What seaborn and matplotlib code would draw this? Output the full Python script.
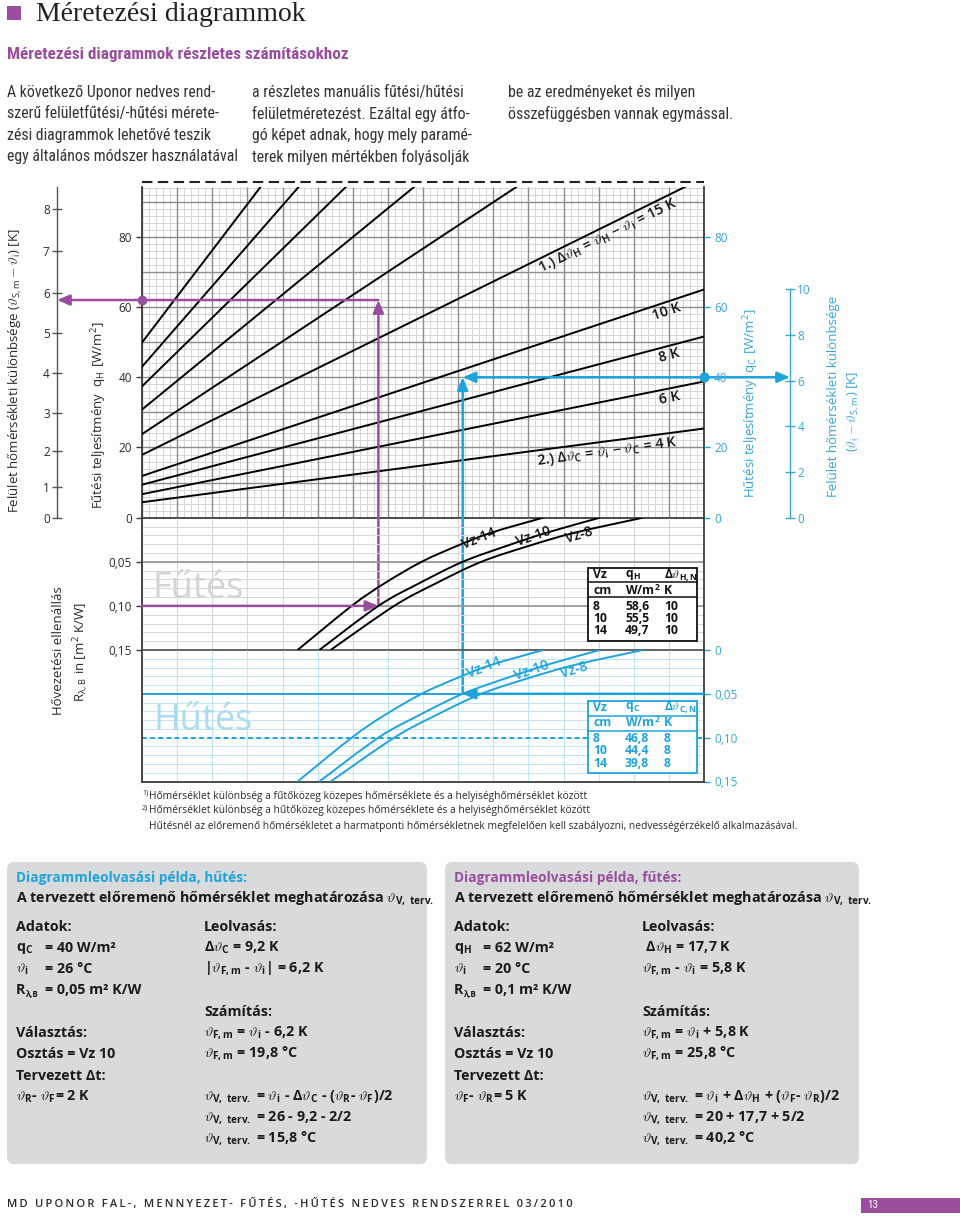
import numpy as np
import matplotlib
matplotlib.use("Agg")
import matplotlib.pyplot as plt
import matplotlib.font_manager as fm
from matplotlib.patches import FancyBboxPatch, Rectangle, PathPatch
from matplotlib.path import Path
import seaborn as sns

# ---------------- data ----------------
# upper field: output lines, one per medium temperature difference (K)
line_dt_K = [4, 6, 8, 10, 15, 20, 25, 30, 35, 40]
line_q_at_x0 = [4.4, 6.7, 9.4, 11.9, 17.9, 23.8, 30.8, 37.4, 43.0, 49.9]
line_q_at_x16 = [25.4, 38.8, 51.6, 65.0, 96.9, 129.5, 161.8, 194.0, 226.8, 260.0]
line_x = [0, 16]

# line labels: (dT, text, x, q, rotation)
line_labels = [
    (15, r'1.) Δ$\vartheta_\mathregular{H}$ = $\vartheta_\mathregular{H}$ − $\vartheta_\mathregular{i}$ = 15 K', 13.27, 80.3, 26),
    (10, '10 K', 14.93, 58.8, 18.4),
    (8, '8 K', 15.0, 46.3, 14.8),
    (6, '6 K', 15.03, 34.1, 11.3),
    (4, r'2.) Δ$\vartheta_\mathregular{C}$ = $\vartheta_\mathregular{i}$ − $\vartheta_\mathregular{C}$ = 4 K', 13.25, 18.7, 7.8),
]

# middle (heating) and lower (cooling) fields: Vz pipe spacing curves
vz_R = [0.15, 0.10, 0.075, 0.05, 0.032, 0.017, 0.0]
vz14_x = [4.43, 5.97, 6.88, 7.96, 8.97, 9.94, 11.42]
vz10_x = [5.05, 6.73, 7.86, 9.13, 10.38, 11.52, 13.04]
vz8_x = [5.37, 7.18, 8.34, 9.66, 11.01, 12.32, 14.26]
vz_names = ['Vz 14', 'Vz 10', 'Vz 8']
vz_heat_lab = [(9.60, 0.0237, 22), (11.16, 0.0215, 19), (12.44, 0.0198, 17)]
vz_cool_lab = [(9.74, 0.0206, 22), (11.10, 0.0228, 19), (12.30, 0.0228, 17)]

# axes ticks
q_ticks = [0, 20, 40, 60, 80]
theta_heat_ticks_q = [0, 8.8, 19.0, 29.9, 41.1, 52.5, 63.9, 75.9, 87.9]
theta_heat_labels = ['0', '1', '2', '3', '4', '5', '6', '7', '8']
theta_cool_ticks_q = [0, 13.0, 26.0, 39.0, 52.1, 65.1]
theta_cool_labels = ['0', '2', '4', '6', '8', '10']
R_heat_ticks = [0.05, 0.10, 0.15]
R_heat_labels = ['0,05', '0,10', '0,15']
R_cool_ticks = [0, 0.05, 0.10, 0.15]
R_cool_labels = ['0', '0,05', '0,10', '0,15']

# reading examples
heat_q, heat_R = 62, 0.10
cool_q, cool_R = 40, 0.05

# inner tables
tab_vz = ['8', '10', '14']
tab_qH = ['58,6', '55,5', '49,7']
tab_dTH = ['10', '10', '10']
tab_qC = ['46,8', '44,4', '39,8']
tab_dTC = ['8', '8', '8']

# ---------------- style ----------------
def pick(names):
    for n in names:
        try:
            fm.findfont(fm.FontProperties(family=n), fallback_to_default=False)
            return n
        except Exception:
            continue
    return 'DejaVu Sans'

sns.set_theme(style='white')
SANS = pick(['Open Sans', 'Noto Sans', 'DejaVu Sans'])
NARROW = pick(['Liberation Sans Narrow', 'Roboto Condensed', 'Open Sans Condensed', SANS])
SERIF = pick(['Liberation Serif', 'DejaVu Serif'])
plt.rcParams['font.family'] = [SANS, 'DejaVu Sans']
plt.rcParams['mathtext.fontset'] = 'cm'

PURPLE = '#9a4d9e'
BLUE = '#1ea3dd'
BLUE_TXT = '#3ba6d6'
BLUE_GRID = '#c2e5f4'
GRID_MAJOR = '#8d8d8d'
GRID_MINOR = '#d6d6d6'
FRAME = '#3c3c3c'
TXT = '#2a2a2a'
BOXC = '#d9dadb'

W, H = 960, 1219
fig = plt.figure(figsize=(9.6, 12.19), dpi=100)
fig.patch.set_facecolor('white')

def rect(l, t, r, b):
    return [l / W, 1 - b / H, (r - l) / W, (b - t) / H]

FL, FR = 142, 704
Y_TOP, Y_Q0, Y_R15, Y_BOT = 187, 517.7, 650, 781.5
Q_TOP = 94.2

ax_bg = fig.add_axes([0, 0, 1, 1], zorder=0)
ax_bg.set_xlim(0, W); ax_bg.set_ylim(H, 0); ax_bg.axis('off')
ax_fg = fig.add_axes([0, 0, 1, 1], zorder=10)
ax_fg.set_xlim(0, W); ax_fg.set_ylim(H, 0); ax_fg.axis('off')
ax_fg.patch.set_alpha(0)

ax_top = fig.add_axes(rect(FL, Y_TOP, FR, Y_Q0), zorder=2)
ax_mid = fig.add_axes(rect(FL, Y_Q0, FR, Y_R15), zorder=2)
ax_bot = fig.add_axes(rect(FL, Y_R15, FR, Y_BOT), zorder=2)
for ax in (ax_top, ax_mid, ax_bot):
    ax.set_xlim(0, 16)
    ax.patch.set_alpha(0)
    ax.set_xticks([])
    ax.spines['top'].set_visible(False)
    for s in ('left', 'right', 'bottom'):
        ax.spines[s].set_color(FRAME)
        ax.spines[s].set_linewidth(1.3)
ax_top.set_ylim(0, Q_TOP)
ax_mid.set_ylim(0.15, 0)
ax_bot.set_ylim(0.15, 0)
ax_mid.spines['bottom'].set_color('#555555')

# ---- grids ----
xs_minor = np.arange(0, 16.001, 0.2)
xs_major = np.arange(0, 16.001, 1)
ax_top.vlines(xs_minor, 0, Q_TOP, color=GRID_MINOR, lw=0.7, zorder=0)
ax_top.hlines(np.arange(0, Q_TOP, 2), 0, 16, color=GRID_MINOR, lw=0.7, zorder=0)
ax_top.vlines(xs_major, 0, Q_TOP, color=GRID_MAJOR, lw=1.0, zorder=0.5)
ax_top.hlines(np.arange(10, Q_TOP, 10), 0, 16, color=GRID_MAJOR, lw=1.0, zorder=0.5)

ax_mid.vlines(xs_major, 0, 0.15, color=GRID_MINOR, lw=0.8, zorder=0)
ax_mid.hlines(np.arange(0.01, 0.15, 0.01), 0, 16, color=GRID_MINOR, lw=0.7, zorder=0)
ax_mid.hlines([0.05, 0.10], 0, 16, color=GRID_MAJOR, lw=1.1, zorder=0.5)

ax_bot.vlines(xs_major, 0, 0.15, color=BLUE_GRID, lw=0.8, zorder=0)
ax_bot.hlines(np.arange(0.01, 0.15, 0.01), 0, 16, color=BLUE_GRID, lw=0.7, zorder=0)
ax_bot.hlines([0.05], 0, 16, color=BLUE, lw=1.4, zorder=0.6)
ax_bot.hlines([0.10], 0, 16, color=BLUE, lw=1.4, zorder=0.6, linestyles=(0, (2.4, 1.8)))

# big background words
ax_mid.text(0.31, 0.0914, 'Fűtés', fontsize=26, color='#d4d4d4', ha='left', va='baseline', zorder=1)
ax_bot.text(0.34, 0.0913, 'Hűtés', fontsize=26, color='#acdcf1', ha='left', va='baseline', zorder=1)

# ---- output lines ----
for q0, q16 in zip(line_q_at_x0, line_q_at_x16):
    sns.lineplot(x=line_x, y=[q0, q16], ax=ax_top, color='black', linewidth=1.4,
                 sort=False, estimator=None, legend=False, zorder=3)
for dt, s, x, q, rot in line_labels:
    ax_top.text(x, q, s, fontsize=10.3, fontweight='semibold', color='#111111', rotation=rot,
                rotation_mode='anchor', ha='center', va='center', zorder=4)

# ---- Vz curves (smooth path through the read points) ----
def smooth_path(xs, ys):
    P = np.column_stack([xs, ys]).astype(float)
    verts = [P[0]]
    codes = [Path.MOVETO]
    n = len(P)
    for i in range(n - 1):
        p0 = P[i - 1] if i > 0 else P[i]
        p1, p2 = P[i], P[i + 1]
        p3 = P[i + 2] if i + 2 < n else P[i + 1]
        verts += [p1 + (p2 - p0) / 6.0, p2 - (p3 - p1) / 6.0, p2]
        codes += [Path.CURVE4] * 3
    return Path(np.array(verts), codes)

for xs in (vz14_x, vz10_x, vz8_x):
    ax_mid.add_patch(PathPatch(smooth_path(xs, vz_R), fill=False, edgecolor='black', lw=1.4, zorder=3))
    ax_bot.add_patch(PathPatch(smooth_path(xs, vz_R), fill=False, edgecolor=BLUE, lw=1.4, zorder=3))
for name, (x, r, rot) in zip(vz_names, vz_heat_lab):
    ax_mid.text(x, r, name.replace(' ', '-'), fontsize=10, fontweight='semibold', color='#111111',
                rotation=rot, rotation_mode='anchor', ha='center', va='center', zorder=4)
for name, (x, r, rot) in zip(vz_names, vz_cool_lab):
    ax_bot.text(x, r, name.replace(' ', '-'), fontsize=10, fontweight='semibold', color=BLUE,
                rotation=rot, rotation_mode='anchor', ha='center', va='center', zorder=4)
for ax in (ax_top, ax_mid, ax_bot):
    ax.set_xlabel(''); ax.set_ylabel('')
    ax.set_xlim(0, 16)

# ---- ticks ----
ax_top.set_yticks(q_ticks, [str(v) for v in q_ticks])
ax_top.tick_params(axis='y', left=True, direction='out', length=4.3, width=1, color=FRAME,
                   labelsize=8.5, labelcolor=TXT, pad=3)
ax_mid.set_yticks(R_heat_ticks, R_heat_labels)
ax_mid.tick_params(axis='y', left=True, direction='out', length=4.3, width=1, color=FRAME,
                   labelsize=8.5, labelcolor=TXT, pad=3)
ax_bot.yaxis.tick_right()
ax_bot.set_yticks(R_cool_ticks, R_cool_labels)
ax_bot.tick_params(axis='y', right=True, direction='out', length=4.3, width=1, color=BLUE,
                   labelsize=8.5, labelcolor=BLUE_TXT, pad=3)

ax_topr = ax_top.twinx()
ax_topr.set_ylim(0, Q_TOP)
ax_topr.set_yticks(q_ticks, [str(v) for v in q_ticks])
ax_topr.tick_params(axis='y', right=True, direction='out', length=4.3, width=1, color=BLUE,
                    labelsize=8.5, labelcolor=BLUE_TXT, pad=3)
for s in ax_topr.spines.values():
    s.set_visible(False)
ax_topr.patch.set_alpha(0)

ax_th = fig.add_axes(rect(57, Y_TOP, 57.3, Y_Q0), zorder=2)
ax_th.set_ylim(0, Q_TOP); ax_th.set_xlim(0, 1); ax_th.patch.set_alpha(0)
for s in ('top', 'right', 'bottom'):
    ax_th.spines[s].set_visible(False)
ax_th.spines['left'].set_color('#555555'); ax_th.spines['left'].set_linewidth(1.0)
ax_th.set_xticks([])
ax_th.set_yticks(theta_heat_ticks_q, theta_heat_labels)
ax_th.tick_params(axis='y', left=True, direction='inout', length=6.5, width=1, color='#555555',
                  labelsize=8.5, labelcolor=TXT, pad=2)

ax_tc = fig.add_axes(rect(789.7, Y_TOP, 790, Y_Q0), zorder=2)
ax_tc.set_ylim(0, Q_TOP); ax_tc.set_xlim(0, 1); ax_tc.patch.set_alpha(0)
for s in ('top', 'left', 'bottom'):
    ax_tc.spines[s].set_visible(False)
ax_tc.spines['right'].set_color(BLUE_TXT); ax_tc.spines['right'].set_linewidth(1.0)
ax_tc.spines['right'].set_bounds(0, theta_cool_ticks_q[-1])
ax_tc.set_xticks([])
ax_tc.yaxis.tick_right()
ax_tc.set_yticks(theta_cool_ticks_q, theta_cool_labels)
ax_tc.tick_params(axis='y', right=True, direction='inout', length=6.5, width=1, color=BLUE_TXT,
                  labelsize=8.5, labelcolor=BLUE_TXT, pad=2)

# ---- reading-example arrows ----
def arrow(ax, xy, xytext, color, style='-|>', tc=None, xc=None):
    ax.annotate('', xy=xy, xycoords=xc if xc is not None else 'data',
                xytext=xytext, textcoords=tc if tc is not None else 'data',
                arrowprops=dict(arrowstyle=style + ',head_length=0.75,head_width=0.32',
                                mutation_scale=10, color=color, lw=1.8,
                                shrinkA=0, shrinkB=0),
                annotation_clip=False, zorder=6)

hx = vz10_x[vz_R.index(heat_R)]
cx = vz10_x[vz_R.index(cool_R)]
arrow(ax_mid, (hx, heat_R), (0, heat_R), PURPLE)
arrow(ax_top, (hx, heat_q), (hx, heat_R), PURPLE, tc=ax_mid.transData)
arrow(ax_top, (hx, heat_q), (0, heat_q), PURPLE, style='<|-', tc=ax_th.transData)
ax_top.scatter([0], [heat_q], s=36, color=PURPLE, zorder=7, clip_on=False)

arrow(ax_bot, (cx, cool_R), (16, cool_R), BLUE)
arrow(ax_top, (cx, cool_q), (cx, cool_R), BLUE, tc=ax_bot.transData)
arrow(ax_top, (cx, cool_q), (16, cool_q), BLUE)
arrow(ax_top, (1, cool_q), (16, cool_q), BLUE, xc=ax_tc.transData)
ax_top.scatter([16], [cool_q], s=40, color=BLUE, zorder=7, clip_on=False)

# dashed line above the chart
ax_bg.plot([FL, FR], [182.3, 182.3], color='#222222', lw=1.5, dashes=(5, 2.6))

# ---- axis titles ----
ax_bg.text(15, 371, r'Felület hőmérsékleti különbsége ($\vartheta_\mathregular{S,m} - \vartheta_\mathregular{i}$) [K]',
           rotation=90, ha='center', va='center', fontsize=9.5, color=TXT)
ax_bg.text(98, 415, r'Fűtési teljesítmény  q$_\mathregular{H}$ [W/m$^\mathregular{2}$]',
           rotation=90, ha='center', va='center', fontsize=9.5, color=TXT)
ax_bg.text(58, 651, 'Hővezetési ellenállás', rotation=90, ha='center', va='center', fontsize=9.5, color=TXT)
ax_bg.text(80, 652, r'R$_\mathregular{λ,B}$ in [m$^\mathregular{2}$ K/W]', rotation=90, ha='center',
           va='center', fontsize=9.5, color=TXT)
ax_bg.text(750, 403, r'Hűtési teljesítmény  q$_\mathregular{C}$ [W/m$^\mathregular{2}$]',
           rotation=90, ha='center', va='center', fontsize=9.5, color=BLUE_TXT)
ax_bg.text(833, 396, 'Felület hőmérsékleti különbsége', rotation=90, ha='center', va='center',
           fontsize=9.5, color=BLUE_TXT)
ax_bg.text(853, 411, r'($\vartheta_\mathregular{i} - \vartheta_\mathregular{S,m}$) [K]', rotation=90,
           ha='center', va='center', fontsize=9.5, color=BLUE_TXT)

# ---- inner tables ----
def table(top, seps, rows_y, color, head2, vals2, vals3):
    ax_fg.add_patch(Rectangle((587.7, top), 109, 72.5, facecolor='white', edgecolor=color, lw=1.3, zorder=1))
    for s in seps:
        ax_fg.plot([587.7, 696.7], [s, s], color=color, lw=1.1, zorder=2)
    cols = [593, 625, 664]
    heads = [['Vz', head2[0], head2[1]], ['cm', r'W/m$^\mathregular{2}$', 'K']]
    for r, row in enumerate(heads):
        for c, s in enumerate(row):
            ax_fg.text(cols[c], rows_y[r], s, fontsize=8.7, fontweight='bold', color=color,
                       ha='left', va='center', zorder=3)
    for r in range(3):
        for c, s in enumerate([tab_vz[r], vals2[r], vals3[r]]):
            ax_fg.text(cols[c], rows_y[2 + r], s, fontsize=8.7, fontweight='bold', color=color,
                       ha='left', va='center', zorder=3)

table(568.3, [582.3, 597.3], [575, 590.7, 606, 618.3, 630.7], '#111111',
      [r'q$_\mathregular{H}$', r'Δ$\vartheta_\mathregular{H,N}$'], tab_qH, tab_dTH)
table(700.7, [715.7, 730.7], [707.3, 722.7, 738.3, 750.7, 763.3], BLUE,
      [r'q$_\mathregular{C}$', r'Δ$\vartheta_\mathregular{C,N}$'], tab_qC, tab_dTC)

# ---- footnotes ----
notes = [
    ('1)', 'Hőmérséklet különbség a fűtőközeg közepes hőmérséklete és a helyiséghőmérséklet között', 796),
    ('2)', 'Hőmérséklet különbség a hűtőközeg közepes hőmérséklete és a helyiséghőmérséklet között', 811),
    ('', 'Hűtésnél az előremenő hőmérsékletet a harmatponti hőmérsékletnek megfelelően kell szabályozni, nedvességérzékelő alkalmazásával.', 826),
]
for sup, s, y in notes:
    if sup:
        ax_bg.text(142, y - 3, sup, fontsize=5, color=TXT, ha='left', va='center')
    ax_bg.text(149, y, s, fontsize=7.42, color=TXT, ha='left', va='center')

# ---- header ----
ax_bg.add_patch(Rectangle((7, 6), 14, 14, facecolor=PURPLE, edgecolor='none'))
ax_bg.text(36, 14.5, 'Méretezési diagrammok', fontsize=20, family=SERIF, color='#222222', ha='left', va='center')
ax_bg.text(7, 55, 'Méretezési diagrammok részletes számításokhoz', fontsize=12.3, family=NARROW,
           fontweight='bold', color=PURPLE, ha='left', va='center')
para = [
    (7, ['A következő Uponor nedves rend-', 'szerű felületfűtési/-hűtési mérete-',
         'zési diagrammok lehetővé teszik', 'egy általános módszer használatával']),
    (252, ['a részletes manuális fűtési/hűtési', 'felületméretezést. Ezáltal egy átfo-',
           'gó képet adnak, hogy mely paramé-', 'terek milyen mértékben folyásolják']),
    (508, ['be az eredményeket és milyen', 'összefüggésben vannak egymással.']),
]
for x, lines in para:
    for i, s in enumerate(lines):
        ax_bg.text(x, 92 + i * 21.6, s, fontsize=11.4, family=NARROW, color='#333333', ha='left', va='center')

# ---- example boxes ----
def sub(s):
    return r'$_\mathregular{' + s + '}$'
def th(s):
    return r'$\vartheta_\mathregular{' + s + '}$'
VT = th(r'V,\ terv.')

boxes = [
    (7, BLUE, 'Diagrammleolvasási példa, hűtés:',
     [('Adatok:', None, 927), ('q' + sub('C'), '= 40 W/m²', 948), (th('i'), '= 26 °C', 969),
      ('R', '= 0,05 m² K/W', 990), ('Választás:', None, 1033), ('Osztás = Vz 10', None, 1054),
      ('Tervezett Δt:', None, 1076), (th('R') + '- ' + th('F') + '= 2 K', None, 1097)],
     [('Leolvasás:', 927), ('Δ' + th('C') + ' = 9,2 K', 948), ('|' + th('F,m') + ' - ' + th('i') + '| = 6,2 K', 969),
      ('Számítás:', 1012), (th('F,m') + ' = ' + th('i') + ' - 6,2 K', 1033), (th('F,m') + ' = 19,8 °C', 1054),
      (VT + ' = ' + th('i') + ' - Δ' + th('C') + ' - (' + th('R') + '- ' + th('F') + ')/2', 1097),
      (VT + ' = 26 - 9,2 - 2/2', 1118), (VT + ' = 15,8 °C', 1139)]),
    (445, PURPLE, 'Diagrammleolvasási példa, fűtés:',
     [('Adatok:', None, 927), ('q' + sub('H'), '= 62 W/m²', 948), (th('i'), '= 20 °C', 969),
      ('R', '= 0,1 m² K/W', 990), ('Választás:', None, 1033), ('Osztás = Vz 10', None, 1054),
      ('Tervezett Δt:', None, 1076), (th('F') + '- ' + th('R') + '= 5 K', None, 1097)],
     [('Leolvasás:', 927), (' Δ' + th('H') + ' = 17,7 K', 948), (th('F,m') + ' - ' + th('i') + ' = 5,8 K', 969),
      ('Számítás:', 1012), (th('F,m') + ' = ' + th('i') + ' + 5,8 K', 1033), (th('F,m') + ' = 25,8 °C', 1054),
      (VT + ' = ' + th('i') + ' + Δ' + th('H') + ' + (' + th('F') + '- ' + th('R') + ')/2', 1097),
      (VT + ' = 20 + 17,7 + 5/2', 1118), (VT + ' = 40,2 °C', 1139)]),
]
BODY = 10.3
for bx, hc, head, left, right in boxes:
    bw = 420 if bx < 100 else 414
    ax_bg.add_patch(FancyBboxPatch((bx, 862), bw, 302, boxstyle='round,pad=0,rounding_size=7',
                                   facecolor=BOXC, edgecolor='none'))
    x0 = bx + 9
    ax_bg.text(x0, 878, head, fontsize=9.8, fontweight='bold', color=hc, ha='left', va='center')
    ax_bg.text(x0, 899, 'A tervezett előremenő hőmérséklet meghatározása ' + VT, fontsize=BODY,
               fontweight='bold', color='#1a1a1a', ha='left', va='center')
    for s, rest, y in left:
        ax_bg.text(x0, y, s, fontsize=BODY, fontweight='bold', color='#1a1a1a', ha='left', va='center')
        if s == 'R':
            ax_bg.text(x0 + 9.5, y + 5, 'λ,B', fontsize=5.8, fontweight='bold', color='#1a1a1a',
                       ha='left', va='center')
        if rest:
            ax_bg.text(x0 + 29, y, rest, fontsize=BODY, fontweight='bold', color='#1a1a1a', ha='left', va='center')
    for s, y in right:
        ax_bg.text(x0 + 188, y, s, fontsize=BODY, fontweight='bold', color='#1a1a1a', ha='left', va='center')

# ---- footer ----
footer = 'MD UPONOR FAL-, MENNYEZET- FŰTÉS, -HŰTÉS NEDVES RENDSZERREL 03/2010'
ax_bg.text(7, 1205, '\u2009'.join(footer), fontsize=8.05, fontweight='semibold', color='#2a2a2a',
           ha='left', va='center', family=[SANS, 'DejaVu Sans'])
ax_bg.add_patch(Rectangle((861, 1197.5), 99, 15.5, facecolor=PURPLE, edgecolor='none'))
ax_bg.text(867, 1205.5, '13', fontsize=8, color='white', ha='left', va='center', family=NARROW)

fig.savefig('out.png', dpi=100, facecolor='white')
